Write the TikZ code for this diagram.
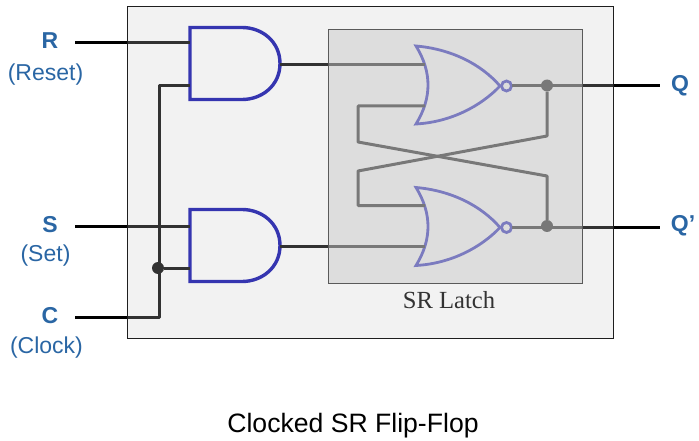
\documentclass[tikz,border=0pt]{standalone}
\usepackage{xcolor}
\usepackage{fontspec}
\setmainfont{Liberation Sans}
\newfontfamily\latchfont{Liberation Serif}
\usetikzlibrary{positioning}
\definecolor{labelblue}{HTML}{2A66A4}
\tikzset{
	wire/.style={draw=black,line width=3pt,line join=round},
	andline/.style={draw={rgb,255:red,3;green,3;blue,167},line width=3.4pt,line join=miter},
	norline/.style={draw={rgb,255:red,8;green,8;blue,178},line width=2.8pt,line join=miter},
	junction/.style={circle,fill=black,inner sep=0pt,minimum size=12pt},
	blockff/.style={draw={rgb,255:red,30;green,30;blue,30},line width=1pt,fill={rgb,255:red,203;green,203;blue,203},fill opacity=.25,inner sep=0pt,outer sep=0pt,minimum width=485.5pt,minimum height=331pt},
	blocklatch/.style={draw={rgb,255:red,90;green,90;blue,90},line width=1pt,fill={rgb,255:red,199;green,199;blue,199},fill opacity=.472,inner sep=0pt,outer sep=0pt,minimum width=253.5pt,minimum height=253pt},
	pinname/.style={font=\fontsize{23}{25}\selectfont\bfseries,text=labelblue,inner sep=0pt},
	pinnote/.style={font=\fontsize{23}{25}\selectfont,text=labelblue,inner sep=0pt},
	andgate/.pic={
		\draw[andline] (0,0) -- (52,0) .. controls (72,0) and (90,14) .. (90,36) .. controls (90,58) and (72,72) .. (52,72) -- (0,72) -- cycle;
		\coordinate (-in1) at (0,16);
		\coordinate (-in2) at (0,58);
		\coordinate (-out) at (90,37);
	},
	norgate/.pic={
		\draw[norline] (0,0) .. controls (35,3) and (65,18) .. (84,40) .. controls (65,60) and (35,76) .. (0,78) .. controls (16,52) and (16,26) .. (0,0) -- cycle;
		\draw[norline] (90.5,40) circle (5);
		\coordinate (-in1) at (9,18);
		\coordinate (-in2) at (9,60);
		\coordinate (-out) at (96,40);
	}
}
\begin{document}
\begin{tikzpicture}[x=1pt,y=-1pt]
	\useasboundingbox (0,0) rectangle (699,441);

	\pic (and1) at (190,27.5) {andgate};
	\pic (and2) at (190,209.5) {andgate};
	\pic (nor1) at (416,46) {norgate};
	\pic (nor2) at (416,187.5) {norgate};

	\coordinate (rin) at (75,43);
	\coordinate (sin) at (75,226);
	\coordinate (cin) at (75,317);
	\coordinate (cturn) at (159,317);
	\coordinate (qout) at (660,86);
	\coordinate (qbout) at (660,227);
	\coordinate (xa) at (358,142);
	\coordinate (xb) at (547,176);
	\coordinate (xc) at (547,136);
	\coordinate (xd) at (358,171);
	\node[junction] (clk) at (158,268) {};
	\node[junction] (fb1) at (547,85.5) {};
	\node[junction] (fb2) at (547,226) {};

	\draw[wire] (rin) -- (rin -| and1-in1);
	\draw[wire] (sin) -- (sin -| and2-in1);
	\draw[wire] (cin) -- (cturn) |- (and1-in2);
	\draw[wire] (clk) -- (clk -| and2-in2);
	\draw[wire] (and1-out) -- (and1-out -| nor1-in1);
	\draw[wire] (and2-out) -- (and2-out -| nor2-in2);
	\draw[wire] (nor1-out) -- (nor1-out -| qout);
	\draw[wire] (nor2-out) -- (nor2-out -| qbout);
	\draw[wire] (nor1-in2) -| (xa) -- (xb) -- (fb2);
	\draw[wire] (fb1) -- (xc) -- (xd) |- (nor2-in1);

	\node[blockff] (flipflop) at (370.25,172.5) {};
	\node[blocklatch] (latch) at (455.25,156.5) {};

	\node[pinname] (r) at (50,41) {R};
	\node[pinnote] (reset) at (45.5,74.5) {(Reset)};
	\node[pinname] (s) at (50,225) {S};
	\node[pinnote] (set) at (45.5,255.5) {(Set)};
	\node[pinname] (c) at (50,316) {C};
	\node[pinnote] (clock) at (46.5,347.5) {(Clock)};
	\node[pinname] (q) at (680,85.5) {Q};
	\node[pinname] (qb) at (683,225.5) {Q’};
	\node[font=\fontsize{24.6}{26}\selectfont\latchfont,text=black!80,inner sep=0pt] (latchname) at (449,300) {SR Latch};
	\node[font=\fontsize{26.6}{28}\selectfont,inner sep=0pt] (title) at (353,426) {Clocked SR Flip-Flop};
\end{tikzpicture}
\end{document}
